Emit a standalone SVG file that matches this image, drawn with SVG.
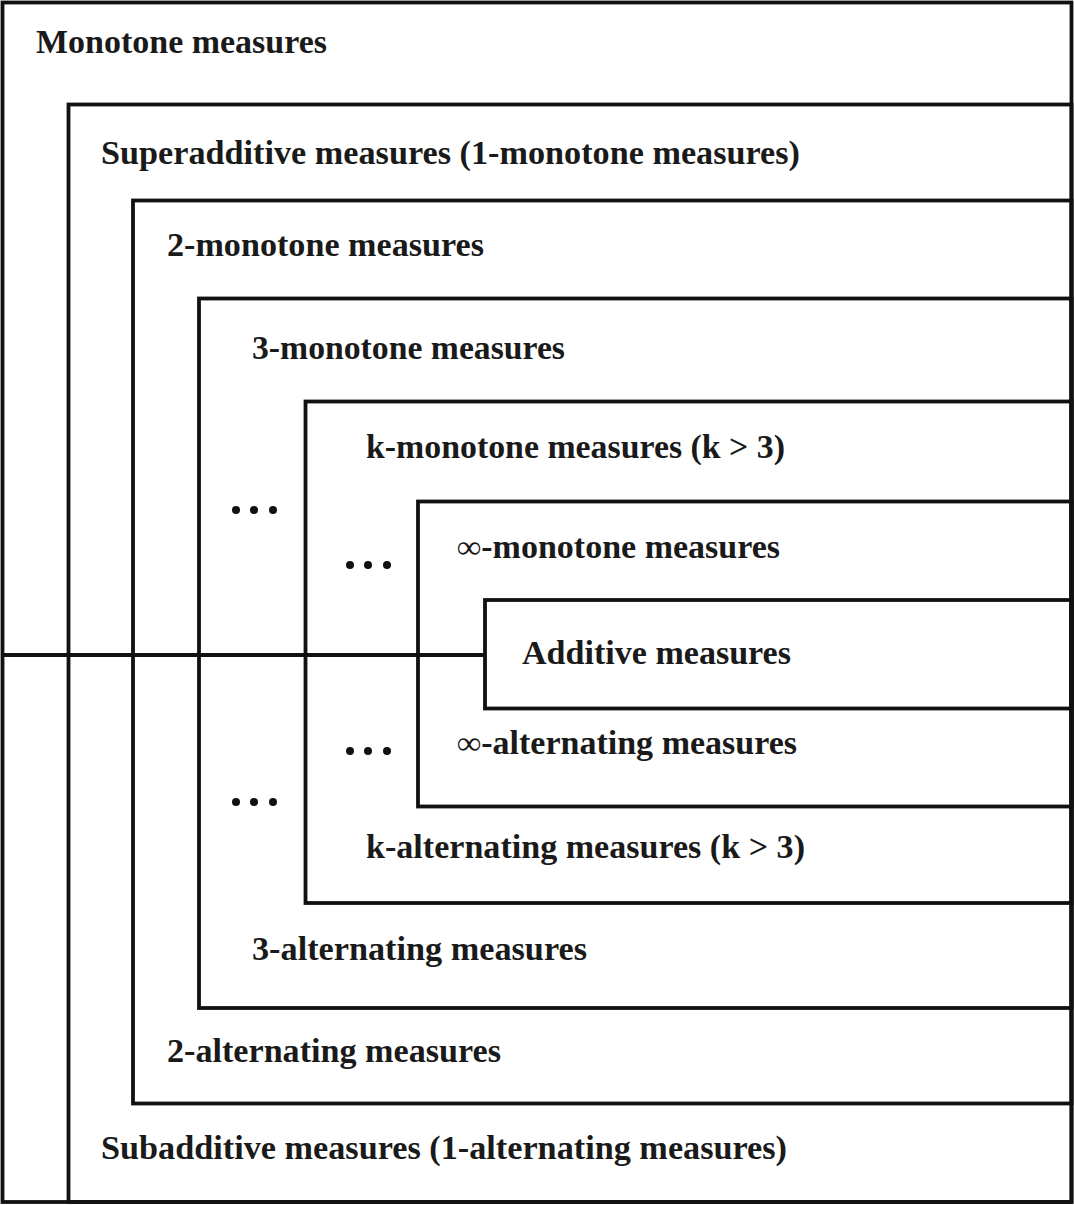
<svg xmlns="http://www.w3.org/2000/svg" width="1074" height="1205" viewBox="0 0 1074 1205">
<style>
.box{fill:none;stroke:#111;stroke-width:3.8}
.ln{stroke:#111;stroke-width:3.8;fill:none}
.t{font-family:"Liberation Serif","Times New Roman",serif;font-weight:bold;font-size:33px;fill:#1a1a1a}
.dot{fill:#111}
</style>
<rect x="0" y="0" width="1074" height="1205" fill="#fff"/>
<g id="monotone">
<rect class="box" x="2.5" y="2.5" width="1069" height="1199.5"/>
<text class="t" x="36" y="53" textLength="291" lengthAdjust="spacingAndGlyphs">Monotone measures</text>
</g>
<g id="superadditive">
<rect class="box" x="68.5" y="104.5" width="1003" height="1097.5"/>
<text class="t" x="101" y="164" textLength="699" lengthAdjust="spacingAndGlyphs">Superadditive measures (1-monotone measures)</text>
<text class="t" x="101" y="1159" textLength="686" lengthAdjust="spacingAndGlyphs">Subadditive measures (1-alternating measures)</text>
</g>
<g id="two">
<rect class="box" x="133" y="200.5" width="938.5" height="903"/>
<text class="t" x="167" y="256" textLength="317" lengthAdjust="spacingAndGlyphs">2-monotone measures</text>
<text class="t" x="167" y="1062" textLength="334" lengthAdjust="spacingAndGlyphs">2-alternating measures</text>
</g>
<g id="three">
<rect class="box" x="199" y="298.5" width="872.5" height="709.5"/>
<text class="t" x="252" y="359" textLength="313" lengthAdjust="spacingAndGlyphs">3-monotone measures</text>
<text class="t" x="252" y="960" textLength="335" lengthAdjust="spacingAndGlyphs">3-alternating measures</text>
<circle class="dot" cx="236" cy="510" r="4"/><circle class="dot" cx="254" cy="510" r="4"/><circle class="dot" cx="273" cy="510" r="4"/>
<circle class="dot" cx="236" cy="802" r="4"/><circle class="dot" cx="254" cy="802" r="4"/><circle class="dot" cx="273" cy="802" r="4"/>
</g>
<g id="k">
<rect class="box" x="305.5" y="401.5" width="766" height="501.5"/>
<text class="t" x="366" y="458" textLength="419" lengthAdjust="spacingAndGlyphs">k-monotone measures (k &gt; 3)</text>
<text class="t" x="366" y="858" textLength="439" lengthAdjust="spacingAndGlyphs">k-alternating measures (k &gt; 3)</text>
<circle class="dot" cx="350" cy="565" r="4"/><circle class="dot" cx="368" cy="565" r="4"/><circle class="dot" cx="387" cy="565" r="4"/>
<circle class="dot" cx="350" cy="751" r="4"/><circle class="dot" cx="368" cy="751" r="4"/><circle class="dot" cx="387" cy="751" r="4"/>
</g>
<g id="infinity">
<rect class="box" x="418" y="501.5" width="653.5" height="305"/>
<text class="t" x="457" y="558" textLength="323" lengthAdjust="spacingAndGlyphs">∞-monotone measures</text>
<text class="t" x="457" y="754" textLength="340" lengthAdjust="spacingAndGlyphs">∞-alternating measures</text>
</g>
<g id="additive">
<rect class="box" x="485" y="600" width="586.5" height="108.5"/>
<text class="t" x="522" y="664" textLength="269" lengthAdjust="spacingAndGlyphs">Additive measures</text>
</g>
<g id="connectors">
<line class="ln" x1="2" y1="655" x2="485" y2="655"/>
</g>
</svg>
